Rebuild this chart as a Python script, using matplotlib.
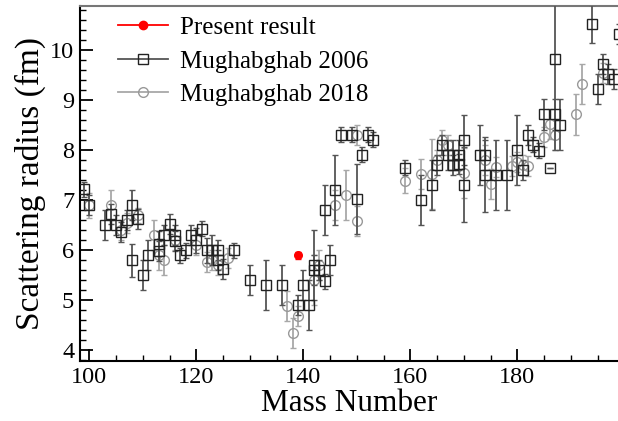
import matplotlib
matplotlib.use("Agg")
import matplotlib.pyplot as plt
from matplotlib.ticker import MultipleLocator
from matplotlib.lines import Line2D

plt.rcParams['font.family'] = ['Liberation Serif', 'DejaVu Serif']

# Mughabghab 2006 (squares)
a06 = [99, 100, 103, 104, 105, 106, 107, 108, 108, 109, 110, 111, 113, 113, 114, 115,
       116, 116, 117, 118, 119, 120, 121, 122, 123, 124, 124, 125, 127, 130, 133, 136,
       139, 140, 141, 142, 142, 143, 144, 145, 144, 146, 147, 149, 150, 151, 152, 153,
       159, 162, 164, 165, 166, 167, 168, 168, 169, 169, 170, 170, 173, 174, 174, 176,
       178, 180, 181, 182, 183, 184, 185, 186, 187, 187, 188, 194, 195, 196, 197, 198, 199]
r06 = [7.22, 6.91, 6.50, 6.73, 6.50, 6.37, 6.61, 6.91, 5.80, 6.62, 5.50, 5.90, 6.13, 5.99, 6.30, 6.53,
       6.30, 6.19, 5.90, 6.00, 6.30, 6.20, 6.43, 6.00, 6.00, 6.00, 5.80, 5.62, 6.00, 5.40, 5.31, 5.30,
       4.90, 5.30, 4.90, 5.71, 5.60, 5.60, 5.38, 5.80, 6.80, 7.20, 8.31, 8.31, 7.02, 7.91, 8.31, 8.21,
       7.65, 7.01, 7.30, 7.70, 8.11, 7.91, 7.90, 7.70, 7.90, 7.73, 8.20, 7.31, 7.90, 7.90, 7.51, 7.51,
       7.51, 8.00, 7.60, 8.31, 8.11, 7.99, 8.71, 7.65, 9.81, 8.71, 8.51, 10.51, 9.21, 9.71, 9.52, 9.41, 10.31]
e06 = [0.15, 0.20, 0.30, 0.20, 0.20, 0.20, 0.20, 0.30, 0.33, 0.20, 0.30, 0.30, 0.25, 0.20, 0.20, 0.20,
       0.20, 0.20, 0.15, 0.15, 0.20, 0.25, 0.15, 0.25, 0.30, 0.20, 0.20, 0.20, 0.15, 0.30, 0.50, 0.40,
       0.20, 0.30, 0.50, 0.70, 0.30, 0.20, 0.15, 0.30, 0.50, 0.70, 0.15, 0.15, 0.70, 0.15, 0.15, 0.15,
       0.15, 0.50, 0.50, 0.20, 0.20, 0.30, 0.30, 0.20, 0.30, 0.20, 0.50, 0.75, 0.60, 0.30, 0.75, 0.70,
       0.70, 0.70, 0.20, 0.20, 0.15, 0.15, 0.30, 0.00, 1.80, 0.30, 0.50, 0.38, 0.30, 0.20, 0.20, 0.20, 0.20]

# Mughabghab 2018 (circles)
a18 = [100, 104, 106, 107, 109, 112, 113, 114, 116, 120, 122, 123, 124, 126, 137, 138,
       139, 142, 143, 146, 148, 150, 150, 159, 162, 164, 165, 166, 167, 170, 174, 175,
       176, 179, 180, 181, 182, 185, 186, 187, 191, 192, 196]
r18 = [6.90, 6.91, 6.40, 6.55, 6.70, 6.30, 5.90, 5.81, 6.20, 6.10, 5.77, 5.80, 5.70, 5.85, 4.89, 4.35,
       4.68, 5.40, 5.71, 6.90, 7.10, 8.31, 6.59, 7.39, 7.52, 7.52, 7.81, 8.20, 8.10, 7.55, 7.81, 7.33,
       7.66, 7.68, 7.77, 7.70, 7.69, 8.27, 8.52, 8.30, 8.71, 9.31, 9.53]
e18 = [0.25, 0.30, 0.20, 0.20, 0.15, 0.30, 0.30, 0.30, 0.20, 0.20, 0.20, 0.20, 0.20, 0.20, 0.30, 0.30,
       0.20, 0.50, 0.30, 0.30, 0.50, 0.20, 0.30, 0.25, 0.30, 0.70, 0.20, 0.20, 0.20, 0.50, 0.30, 0.30,
       0.20, 0.20, 0.20, 0.20, 0.20, 0.20, 0.30, 0.30, 0.40, 0.40, 0.20]

# Present result
a_pr = [139]
r_pr = [5.90]
e_pr = [0.07]

fig = plt.figure(figsize=(6.18, 4.21), dpi=100)
ax = fig.add_axes([0.129, 0.142, 0.871, 0.844])

c18 = '#a8a8a8'
c06 = '#555555'

ax.errorbar(a18, r18, yerr=e18, fmt='o', ms=7, mfc='none', mec='#999999', mew=1.0,
            ecolor=c18, elinewidth=1.3, capsize=2, capthick=1.0, zorder=2)
ax.errorbar(a06, r06, yerr=e06, fmt='s', ms=6.5, mfc='none', mec='#222222', mew=1.0,
            ecolor=c06, elinewidth=1.3, capsize=2, capthick=1.0, zorder=3)
ax.errorbar(a_pr, r_pr, yerr=e_pr, fmt='o', ms=5.5, color='red', mec='red',
            ecolor='red', elinewidth=1.3, capsize=2, zorder=4)

ax.set_xlim(98.2, 198.8)
ax.set_ylim(3.78, 10.88)

ax.xaxis.set_major_locator(MultipleLocator(20))
ax.xaxis.set_minor_locator(MultipleLocator(5))
ax.yaxis.set_major_locator(MultipleLocator(1))
ax.yaxis.set_minor_locator(MultipleLocator(0.2))
ax.tick_params(which='both', direction='in', top=False, right=False, labelsize=17.5)
ax.tick_params(which='major', length=9, width=1.3)
ax.tick_params(which='minor', length=4.5, width=1.0)
ax.tick_params(axis='x', pad=4)
ax.tick_params(axis='y', pad=4)

for s in ['left', 'bottom']:
    ax.spines[s].set_linewidth(1.5)
    ax.spines[s].set_color('black')
ax.spines['top'].set_color('#777777')
ax.spines['top'].set_linewidth(1.5)
ax.spines['right'].set_visible(False)

ax.set_xlabel('Mass Number', fontsize=22.5, labelpad=1)
ax.set_ylabel('Scattering radius (fm)', fontsize=24, labelpad=3)

handles = [
    Line2D([0], [0], color='red', marker='o', ms=6, mfc='red', mec='red', lw=1.3),
    Line2D([0], [0], color=c06, marker='s', ms=6.5, mfc='none', mec='#222222', lw=1.3),
    Line2D([0], [0], color=c18, marker='o', ms=7, mfc='none', mec='#999999', lw=1.3),
]
labels = ['Present result', 'Mughabghab 2006', 'Mughabghab 2018']
ax.legend(handles, labels, loc='upper left', bbox_to_anchor=(0.072, 0.970), frameon=False,
          borderpad=0, borderaxespad=0,
          fontsize=18, handlelength=2.0, handletextpad=0.45, labelspacing=0.44, numpoints=1)

fig.savefig('out.png', dpi=100)
